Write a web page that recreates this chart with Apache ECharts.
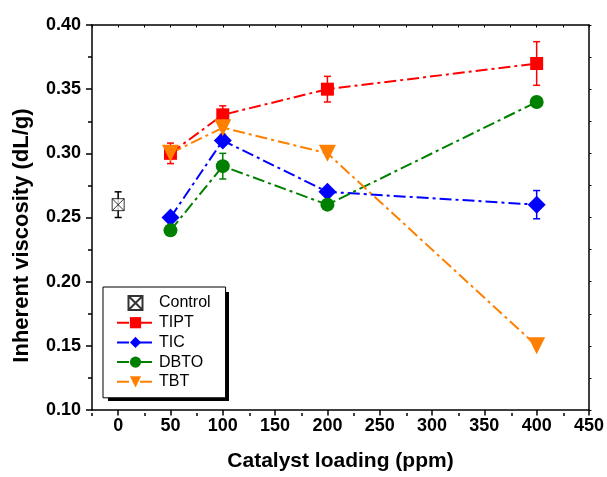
<!DOCTYPE html>
<html>
<head>
<meta charset="utf-8">
<script src="https://cdn.jsdelivr.net/npm/echarts@6/dist/echarts.min.js"></script>
<style>
html, body { margin: 0; padding: 0; background: #fff; }
#chart { width: 607px; height: 477px; }
</style>
</head>
<body>
<div id="chart"></div>
<script>
// catalyst loading (ppm)
const loadings = [50, 100, 200, 400];
const xMajorTicks = [0, 50, 100, 150, 200, 250, 300, 350, 400, 450];
const xMinorTicks = [-25, 25, 75, 125, 175, 225, 275, 325, 375, 425];

// inherent viscosity (dL/g) and error bars
const controlX = [0];
const control = [0.26];
const controlErr = [0.01];
const tipt = [0.30, 0.33, 0.35, 0.37];
const tiptErr = [0.008, 0.007, 0.01, 0.017];
const tic = [0.25, 0.31, 0.27, 0.26];
const ticErr = [0, 0, 0, 0.011];
const dbto = [0.24, 0.29, 0.26, 0.34];
const dbtoErr = [0, 0.01, 0, 0];
const tbt = [0.30, 0.32, 0.30, 0.15];
const tbtErr = [0, 0.005, 0, 0];

const font = "'Liberation Sans', Arial, sans-serif";
const dashDot = [12, 4, 3, 4];

function pairs(xs, ys) {
	return xs.map((x, i) => [x, ys[i]]);
}

function errData(xs, ys, es) {
	return xs.map((x, i) => [x, ys[i], es[i]]).filter(d => d[2] > 0);
}

function errSeries(name, color, data) {
	return {
		name: name + " err",
		type: "custom",
		data: data,
		z: 1,
		silent: true,
		renderItem(params, api) {
			const x = api.value(0), y = api.value(1), e = api.value(2);
			const top = api.coord([x, y + e]);
			const bot = api.coord([x, y - e]);
			const w = 3.5;
			const st = {stroke: color, lineWidth: 1.5};
			return {
				type: "group",
				children: [
					{type: "line", shape: {x1: top[0], y1: top[1], x2: bot[0], y2: bot[1]}, style: st},
					{type: "line", shape: {x1: top[0] - w, y1: top[1], x2: top[0] + w, y2: top[1]}, style: st},
					{type: "line", shape: {x1: bot[0] - w, y1: bot[1], x2: bot[0] + w, y2: bot[1]}, style: st}
				]
			};
		}
	};
}

function lineSeries(name, color, ys, symbol, size, rotate) {
	return {
		name: name,
		type: "line",
		data: pairs(loadings, ys),
		symbol: symbol,
		symbolSize: size,
		symbolRotate: rotate || 0,
		showAllSymbol: true,
		z: 3,
		itemStyle: {color: color},
		lineStyle: {color: color, width: 2, type: dashDot}
	};
}

const chart = echarts.init(document.getElementById("chart"));
const gridPos = {left: 92, right: 17, top: 25, bottom: 64};
const axisLine = {show: true, onZero: false, lineStyle: {color: "#000", width: 1.5}};
const labelStyle = {color: "#000", fontFamily: font, fontWeight: "bold", fontSize: 18};

const option = {
	animation: false,
	grid: [
		Object.assign({}, gridPos),
		Object.assign({}, gridPos)
	],
	// drop shadow behind the legend box
	graphic: [
		{
			type: "rect",
			left: 108,
			top: 292,
			z: 3,
			shape: {width: 121, height: 109},
			style: {fill: "#000"}
		}
	],
	legend: {
		data: ["Control", "TIPT", "TIC", "DBTO", "TBT"],
		orient: "vertical",
		left: 103,
		top: 287,
		z: 5,
		padding: [8, 15, 8, 13],
		itemWidth: 37,
		itemHeight: 14,
		itemGap: 3.7,
		backgroundColor: "#fff",
		borderColor: "#000",
		borderWidth: 1,
		borderRadius: 0,
		textStyle: {color: "#000", fontFamily: font, fontSize: 16}
	},
	xAxis: [
		{
			type: "value",
			gridIndex: 0,
			position: "bottom",
			min: -25,
			max: 450,
			axisLine: axisLine,
			axisTick: {show: true, customValues: xMajorTicks, length: 5.5, lineStyle: {color: "#000", width: 1.5}},
			axisLabel: Object.assign({customValues: xMajorTicks, margin: 7}, labelStyle),
			splitLine: {show: false},
			name: "Catalyst loading (ppm)",
			nameLocation: "middle",
			nameGap: 41,
			nameTextStyle: {color: "#000", fontFamily: font, fontWeight: "bold", fontSize: 21}
		},
		{
			type: "value",
			gridIndex: 0,
			position: "top",
			min: -25,
			max: 450,
			axisLine: axisLine,
			axisTick: {show: true, inside: true, customValues: xMajorTicks.concat(xMinorTicks), length: 2.5, lineStyle: {color: "#000", width: 1}},
			axisLabel: {show: false},
			splitLine: {show: false}
		},
		{
			type: "value",
			gridIndex: 1,
			position: "bottom",
			min: -25,
			max: 450,
			axisLine: {show: false, onZero: false},
			axisTick: {show: true, customValues: xMinorTicks, length: 3, lineStyle: {color: "#000", width: 1.5}},
			axisLabel: {show: false},
			splitLine: {show: false}
		}
	],
	yAxis: [
		{
			type: "value",
			gridIndex: 0,
			position: "left",
			min: 0.1,
			max: 0.4,
			interval: 0.05,
			axisLine: axisLine,
			axisTick: {show: true, length: 6, lineStyle: {color: "#000", width: 1.5}},
			minorTick: {show: true, splitNumber: 2, length: 4, lineStyle: {color: "#000", width: 1.5}},
			axisLabel: Object.assign({margin: 11, formatter: v => v.toFixed(2)}, labelStyle),
			splitLine: {show: false},
			name: "Inherent viscosity (dL/g)",
			nameLocation: "middle",
			nameGap: 59,
			nameTextStyle: {color: "#000", fontFamily: font, fontWeight: "bold", fontSize: 22, padding: [0, 36, 0, 0]}
		},
		{
			type: "value",
			gridIndex: 0,
			position: "right",
			min: 0.1,
			max: 0.4,
			interval: 0.05,
			axisLine: axisLine,
			axisTick: {show: true, length: 2.5, lineStyle: {color: "#000", width: 1}},
			minorTick: {show: true, splitNumber: 2, length: 2.5, lineStyle: {color: "#000", width: 1}},
			axisLabel: {show: false},
			splitLine: {show: false}
		},
		{
			type: "value",
			gridIndex: 1,
			min: 0.1,
			max: 0.4,
			show: false
		}
	],
	series: [
		errSeries("Control", "#000", errData(controlX, control, controlErr)),
		errSeries("TIPT", "#ff0000", errData(loadings, tipt, tiptErr)),
		errSeries("TIC", "#0000ff", errData(loadings, tic, ticErr)),
		errSeries("DBTO", "#008000", errData(loadings, dbto, dbtoErr)),
		errSeries("TBT", "#ff8000", errData(loadings, tbt, tbtErr)),
		{
			name: "Control",
			type: "scatter",
			data: pairs(controlX, control),
			symbol: "path://M0 0H10V10H0Z M0 0L10 10 M10 0L0 10",
			symbolSize: 12,
			z: 3,
			itemStyle: {color: "#fff", borderColor: "#000", borderWidth: 1}
		},
		lineSeries("TIPT", "#ff0000", tipt, "rect", 13),
		lineSeries("TIC", "#0000ff", tic, "diamond", 18),
		lineSeries("DBTO", "#008000", dbto, "circle", 14),
		lineSeries("TBT", "#ff8000", tbt, "triangle", 17, 180)
	]
};

chart.setOption(option);
</script>
</body>
</html>
